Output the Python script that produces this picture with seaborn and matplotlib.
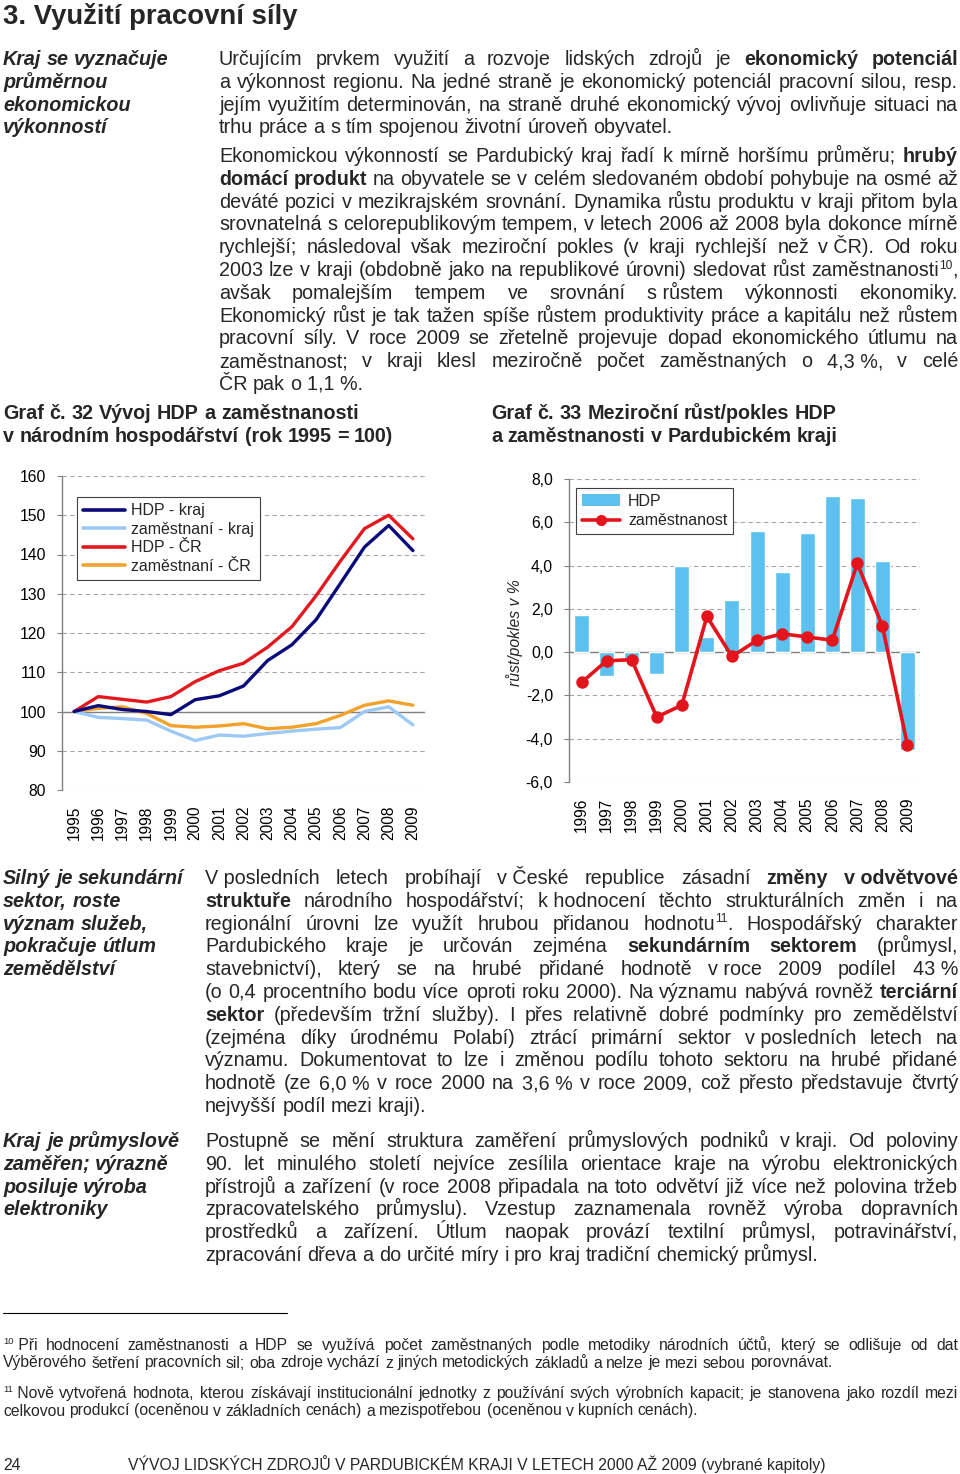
import re
import numpy as np
import pandas as pd
import matplotlib
matplotlib.use("Agg")
import matplotlib.pyplot as plt
import seaborn as sns
from matplotlib.lines import Line2D
from matplotlib.patches import Patch

sns.set_theme(style="white")
plt.rcParams["font.family"] = ["Liberation Sans", "DejaVu Sans"]

# --- data: graf 32 (index, 1995 = 100)
roky = list(range(1995, 2010))
hdp_kraj = [100, 101.5, 100.5, 100.0, 99.2, 103.0, 104.0, 106.5, 113.0, 117.0, 123.4, 132.6, 141.9, 147.4, 141.0]
zam_kraj = [100, 98.5, 98.2, 97.8, 95.0, 92.6, 94.0, 93.7, 94.4, 95.0, 95.5, 95.9, 100.0, 101.2, 96.6]
hdp_cr = [100, 103.8, 103.1, 102.4, 103.8, 107.6, 110.4, 112.3, 116.4, 121.6, 129.5, 138.3, 146.6, 150.0, 144.0]
zam_cr = [100, 100.8, 101.2, 99.5, 96.4, 96.0, 96.3, 96.9, 95.6, 96.0, 96.9, 99.0, 101.6, 102.7, 101.6]
rady = ["HDP - kraj", "zaměstnaní - kraj", "HDP - ČR", "zaměstnaní - ČR"]
barvy = ["#0a0a7a", "#9ccaf5", "#e3191f", "#f2a22c"]

# --- data: graf 33 (mezirocni zmena v %)
roky2 = [str(r) for r in range(1996, 2010)]
hdp_rust = [1.7, -1.1, -0.35, -1.0, 4.0, 0.7, 2.4, 5.6, 3.7, 5.5, 7.2, 7.1, 4.2, -4.5]
zam_rust = [-1.4, -0.4, -0.35, -3.0, -2.45, 1.65, -0.2, 0.55, 0.85, 0.7, 0.55, 4.1, 1.2, -4.3]
bar_c = "#5cc1ee"
line_c = "#e3141b"

# --- texty stranky (~ = nezlomitelna mezera)
nadpis = "3. Využití pracovní síly"
marg1 = ["Kraj se vyznačuje", "průměrnou", "ekonomickou", "výkonností"]
odst1 = [
    "Určujícím prvkem využití a rozvoje lidských zdrojů je **ekonomický potenciál**",
    "a výkonnost regionu. Na jedné straně je ekonomický potenciál pracovní silou, resp.",
    "jejím využitím determinován, na straně druhé ekonomický vývoj ovlivňuje situaci na",
    "trhu práce a s tím spojenou životní úroveň obyvatel.",
]
odst2 = [
    "Ekonomickou výkonností se Pardubický kraj řadí k mírně horšímu průměru; **hrubý**",
    "**domácí produkt** na obyvatele se v celém sledovaném období pohybuje na osmé až",
    "deváté pozici v mezikrajském srovnání. Dynamika růstu produktu v kraji přitom byla",
    "srovnatelná s celorepublikovým tempem, v letech 2006 až 2008 byla dokonce mírně",
    "rychlejší; následoval však meziroční pokles (v kraji rychlejší než v~ČR). Od roku",
    "2003 lze v kraji (obdobně jako na republikové úrovni) sledovat růst zaměstnanosti^^10^^,",
    "avšak pomalejším tempem ve srovnání s~růstem výkonnosti ekonomiky.",
    "Ekonomický růst je tak tažen spíše růstem produktivity práce a kapitálu než růstem",
    "pracovní síly. V roce 2009 se zřetelně projevuje dopad ekonomického útlumu na",
    "zaměstnanost; v kraji klesl meziročně počet zaměstnaných o 4,3~%, v celé",
    "ČR pak o 1,1~%.",
]
graf32 = ["Graf č. 32 Vývoj HDP a zaměstnanosti", "v národním hospodářství (rok 1995 = 100)"]
graf33 = ["Graf č. 33 Meziroční růst/pokles HDP", "a zaměstnanosti v Pardubickém kraji"]
marg2 = ["Silný je sekundární", "sektor, roste", "význam služeb,", "pokračuje útlum", "zemědělství"]
odst3 = [
    "V~posledních letech probíhají v~České republice zásadní **změny v~odvětvové**",
    "**struktuře** národního hospodářství; k~hodnocení těchto strukturálních změn i na",
    "regionální úrovni lze využít hrubou přidanou hodnotu^^11^^. Hospodářský charakter",
    "Pardubického kraje je určován zejména **sekundárním sektorem** (průmysl,",
    "stavebnictví), který se na hrubé přidané hodnotě v~roce 2009 podílel 43~%",
    "(o 0,4 procentního bodu více oproti roku 2000). Na významu nabývá rovněž **terciární**",
    "**sektor** (především tržní služby). I přes relativně dobré podmínky pro zemědělství",
    "(zejména díky úrodnému Polabí) ztrácí primární sektor v~posledních letech na",
    "významu. Dokumentovat to lze i změnou podílu tohoto sektoru na hrubé přidané",
    "hodnotě (ze 6,0~% v roce 2000 na 3,6~% v roce 2009, což přesto představuje čtvrtý",
    "nejvyšší podíl mezi kraji).",
]
marg3 = ["Kraj je průmyslově", "zaměřen; výrazně", "posiluje výroba", "elektroniky"]
odst4 = [
    "Postupně se mění struktura zaměření průmyslových podniků v~kraji. Od poloviny",
    "90. let minulého století nejvíce zesílila orientace kraje na výrobu elektronických",
    "přístrojů a zařízení (v roce 2008 připadala na toto odvětví již více než polovina tržeb",
    "zpracovatelského průmyslu). Vzestup zaznamenala rovněž výroba dopravních",
    "prostředků a zařízení. Útlum naopak provází textilní průmysl, potravinářství,",
    "zpracování dřeva a do určité míry i pro kraj tradiční chemický průmysl.",
]
poznamky = [
    "^^10^^~Při hodnocení zaměstnanosti a HDP se využívá počet zaměstnaných podle metodiky národních účtů, který se odlišuje od dat",
    "Výběrového šetření pracovních sil; oba zdroje vychází z jiných metodických základů a nelze je mezi sebou porovnávat.",
    "^^11^^~Nově vytvořená hodnota, kterou získávají institucionální jednotky z používání svých výrobních kapacit; je stanovena jako rozdíl mezi",
    "celkovou produkcí (oceněnou v základních cenách) a mezispotřebou (oceněnou v kupních cenách).",
]
zapati = "VÝVOJ LIDSKÝCH ZDROJŮ V PARDUBICKÉM KRAJI V LETECH 2000 AŽ 2009 (vybrané kapitoly)"

W, H = 960, 1474
fig = plt.figure(figsize=(W / 100, H / 100), dpi=100)
rend = fig.canvas.get_renderer()

STYLY = {"n": {}, "b": {"weight": "bold"}, "i": {"style": "italic"},
         "bi": {"weight": "bold", "style": "italic"}}


def put(txt, x, y, size, st="n"):
    if st == "s":
        raise_px = size * 100 / 72 * 0.38
        return fig.text(x / W, 1 - (y - raise_px) / H, txt, fontsize=size * 0.6, va="baseline")
    return fig.text(x / W, 1 - y / H, txt, fontsize=size, va="baseline", **STYLY[st])


def parse(line, base):
    segs = []
    for part in re.split(r"(\*\*.*?\*\*|\^\^.*?\^\^)", line):
        if not part:
            continue
        if part.startswith("**"):
            segs.append((part[2:-2], "b"))
        elif part.startswith("^^"):
            segs.append((part[2:-2], "s"))
        else:
            segs.append((part, base))
    return segs


def radek(line, x0, x1, y, size, just=True, base="n"):
    words = [[]]
    for txt, st in parse(line, base):
        for k, part in enumerate(txt.split(" ")):
            if k:
                words.append([])
            if part:
                words[-1].append((part.replace("~", "\u00a0"), st))
    words = [w for w in words if w]
    objs, widths = [], []
    for w in words:
        pieces, ww = [], 0
        for part, st in w:
            t = put(part, 0, y, size, st)
            pieces.append((t, ww))
            ww += t.get_window_extent(rend).width
        objs.append(pieces)
        widths.append(ww)
    space = size * 100 / 72 * 0.278
    gap = (x1 - x0 - sum(widths)) / (len(words) - 1) if (just and len(words) > 1) else space
    x = x0
    for pieces, ww in zip(objs, widths):
        for t, off in pieces:
            t.set_x((x + off) / W)
        x += ww + gap


def odstavec(lines, x0, x1, y0, size, step, base="n", just=True):
    for k, line in enumerate(lines):
        last = k == len(lines) - 1
        radek(line, x0, x1, y0 + k * step, size, just=(just and not last), base=base)


BODY = 14.2
STEP = 22.8

put(nadpis, 3, 24, 19.8, "b")
odstavec(marg1, 3, 200, 65, BODY, STEP, base="bi", just=False)
odstavec(odst1, 219, 958, 65, BODY, STEP)
odstavec(odst2, 219, 958, 162, BODY, STEP)
odstavec(graf32, 3, 480, 419, BODY, STEP, base="b", just=False)
odstavec(graf33, 491, 958, 419, BODY, STEP, base="b", just=False)
odstavec(marg2, 3, 200, 884, BODY, STEP, base="bi", just=False)
odstavec(odst3, 205, 958, 884, BODY, STEP)
odstavec(marg3, 3, 200, 1147, BODY, STEP, base="bi", just=False)
odstavec(odst4, 205, 958, 1147, BODY, STEP)

fig.add_artist(Line2D([3 / W, 287 / W], [1 - 1313 / H, 1 - 1313 / H], color="black", lw=0.8))
FN = 11.35
odstavec(poznamky[:2], 3, 958, 1350, FN, 17.5)
odstavec(poznamky[2:], 3, 958, 1398, FN, 17.5)
put("24", 3, 1470, 11.3)
put(zapati, 128, 1470, 11.3)

# --- graf 32
df1 = pd.DataFrame({
    "rok": roky * 4,
    "index": hdp_kraj + zam_kraj + hdp_cr + zam_cr,
    "rada": sum([[r] * len(roky) for r in rady], []),
})
ax1 = fig.add_axes([62 / W, 1 - 790 / H, 363 / W, 314 / H])
sns.lineplot(data=df1, x="rok", y="index", hue="rada", hue_order=rady[::-1],
             palette=dict(zip(rady, barvy)), linewidth=2.4, legend=False, ax=ax1)
ax1.set_xlim(1994.5, 2009.5)
ax1.set_ylim(80, 160)
ax1.set_yticks(range(80, 161, 10))
ax1.set_xticks(roky)
ax1.axhline(100, color="#808080", lw=1, zorder=1.5)

# --- graf 33
df2 = pd.DataFrame({"rok": roky2, "HDP": hdp_rust, "zam": zam_rust})
ax2 = fig.add_axes([569 / W, 1 - 782 / H, 351 / W, 303 / H])
sns.barplot(data=df2, x="rok", y="HDP", color=bar_c, saturation=1, width=0.6, ax=ax2, zorder=2)
sns.pointplot(data=df2, x="rok", y="zam", color=line_c, markers="o", errorbar=None,
              markersize=7, linewidth=2.6, ax=ax2)
ax2.set_xlim(-0.5, 13.5)
ax2.set_ylim(-6, 8)
yt = list(range(-6, 9, 2))
ax2.set_yticks(yt)
ax2.set_yticklabels([f"{v:.1f}".replace(".", ",") for v in yt])
ax2.axhline(0, color="#808080", lw=1, zorder=1.5)

for ax in (ax1, ax2):
    ax.set_xlabel("")
    ax.set_ylabel("")
    ax.set_axisbelow(True)
    ax.yaxis.grid(True, linestyle=(0, (4, 3)), color="#a6a6a6", linewidth=0.8)
    ax.xaxis.grid(False)
    for sp in ["top", "right", "bottom"]:
        ax.spines[sp].set_visible(False)
    ax.spines["left"].set_color("#808080")
    ax.spines["left"].set_linewidth(1)
    ax.tick_params(axis="y", left=True, length=3.5, width=0.8, color="#808080", pad=8,
                   labelsize=11.3, labelcolor="black")
    ax.tick_params(axis="x", bottom=False, length=0, pad=11, labelsize=11.2,
                   labelrotation=90, labelcolor="black")
    ax.set_facecolor("none")

fig.text(515 / W, 1 - 633 / H, "růst/pokles v %", rotation=90, style="italic",
         fontsize=11.3, ha="center", va="center")

h1 = [Line2D([], [], color=c, lw=2.6) for c in barvy]
leg1 = ax1.legend(h1, rady, loc="upper left", bbox_to_anchor=(77 / W, 1 - 497 / H),
                  bbox_transform=fig.transFigure, frameon=True, fancybox=False,
                  edgecolor="#404040", framealpha=1, fontsize=11.5, handlelength=2.6,
                  handletextpad=0.35, labelspacing=0.22, borderpad=0.4, borderaxespad=0)
leg1.get_frame().set_linewidth(0.8)

h2 = [Patch(facecolor=bar_c, edgecolor="none"),
      Line2D([], [], color=line_c, lw=2.6, marker="o", markersize=7)]
leg2 = ax2.legend(h2, ["HDP", "zaměstnanost"], loc="upper left",
                  bbox_to_anchor=(576 / W, 1 - 488 / H), bbox_transform=fig.transFigure,
                  frameon=True, fancybox=False, edgecolor="#404040", framealpha=1,
                  fontsize=11.5, handlelength=2.4, handletextpad=0.5, labelspacing=0.3,
                  borderpad=0.35, borderaxespad=0)
leg2.get_frame().set_linewidth(0.8)

fig.savefig("out.png", dpi=100)
